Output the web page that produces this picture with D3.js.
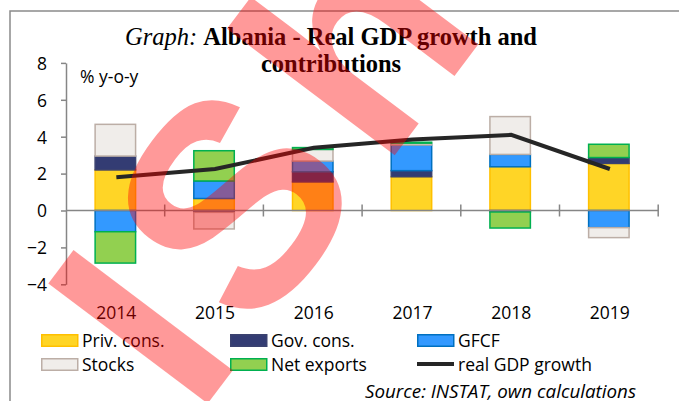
<!DOCTYPE html>
<html>
<head>
<meta charset="utf-8">
<script src="https://cdn.jsdelivr.net/npm/d3@7"></script>
<style>
  body { margin: 0; background: #fff; }
  svg { display: block; }
  .tick-label { font-family: "Open Sans", sans-serif; font-size: 17.5px; fill: #000; }
  .legend-label { font-family: "Open Sans", sans-serif; font-size: 17.5px; fill: #000; }
</style>
</head>
<body>
<svg id="chart"></svg>
<script>
// Chart data
const years = ['2014', '2015', '2016', '2017', '2018', '2019'];
const privCons   = [2.2, 0.65, 1.55, 1.83, 2.37, 2.55];
const govCons    = [0.75, -0.1, 0.55, 0.33, -0.08, 0.32];
const gfcf       = [-1.15, 0.95, 0.58, 1.39, 0.67, -0.93];
const stocks     = [1.72, -0.9, 0.63, 0.10, 2.05, -0.54];
const netExports = [-1.7, 1.64, 0.1, 0.05, -0.87, 0.72];
const gdpGrowth  = [1.8, 2.25, 3.4, 3.85, 4.1, 2.25];
const yTicks = [-4, -2, 0, 2, 4, 6, 8];

const seriesNames = ['Priv. cons.', 'Gov. cons.', 'GFCF', 'Stocks', 'Net exports'];
const seriesValues = [privCons, govCons, gfcf, stocks, netExports];
const lineName = 'real GDP growth';

const colors = {
    'Priv. cons.': {fill: '#ffd526', stroke: '#ffc000'},
    'Gov. cons.':  {fill: '#333c73', stroke: '#3b4270'},
    'GFCF':        {fill: '#3399ff', stroke: '#0070c0'},
    'Stocks':      {fill: '#f0edea', stroke: '#bcaea6'},
    'Net exports': {fill: '#92d050', stroke: '#00b050'}
};

const width = 679, height = 401;
const axisColor = '#868686';

const svg = d3.select('#chart')
    .attr('width', width)
    .attr('height', height);

svg.append('rect')
    .attr('width', width).attr('height', height)
    .attr('fill', '#fff');

// outer frame of the figure (runs off the right and bottom edge)
svg.append('rect')
    .attr('x', 10).attr('y', 11)
    .attr('width', 720).attr('height', 420)
    .attr('fill', 'none')
    .attr('stroke', '#8a8a8a')
    .attr('stroke-width', 1.5);

// Title
const title = svg.append('text')
    .attr('x', 331).attr('y', 45)
    .attr('text-anchor', 'middle')
    .style('font-family', '"Liberation Serif", "Times New Roman", serif')
    .style('font-size', '24.5px');
title.append('tspan').style('font-style', 'italic').text('Graph: ');
title.append('tspan').style('font-weight', 'bold').text('Albania - Real GDP growth and');
svg.append('text')
    .attr('x', 331).attr('y', 72)
    .attr('text-anchor', 'middle')
    .style('font-family', '"Liberation Serif", "Times New Roman", serif')
    .style('font-size', '24.5px')
    .style('font-weight', 'bold')
    .text('contributions');

// Scales
const xScale = d3.scaleBand()
    .domain(years)
    .range([66, 658.2])
    .padding(0);

const yScale = d3.scaleLinear()
    .domain([-4, 8])
    .range([284.3, 62.9]);

const barWidth = xScale.bandwidth() * 0.41;

// Stack the contributions, positives upward and negatives downward
const table = years.map((yr, i) => {
    const row = {year: yr};
    seriesNames.forEach((s, j) => row[s] = seriesValues[j][i]);
    return row;
});
const stacked = d3.stack()
    .keys(seriesNames)
    .offset(d3.stackOffsetDiverging)(table);

// Y axis
const yAxis = d3.axisLeft(yScale)
    .tickValues(yTicks)
    .tickSize(5)
    .tickSizeOuter(0)
    .tickPadding(14)
    .tickFormat(d3.format('d'));

const yAxisG = svg.append('g')
    .attr('transform', 'translate(66,0)')
    .call(yAxis);
yAxisG.select('.domain').attr('stroke', axisColor).attr('stroke-width', 1.5);
yAxisG.selectAll('.tick line').attr('stroke', axisColor).attr('stroke-width', 1.5);
yAxisG.selectAll('.tick text')
    .attr('class', 'tick-label')
    .attr('font-family', null).attr('font-size', null)
    .attr('dy', '0.36em');

// Bars
svg.append('g')
    .selectAll('g')
    .data(stacked)
    .join('g')
    .attr('fill', d => colors[d.key].fill)
    .attr('stroke', d => colors[d.key].stroke)
    .attr('stroke-width', 1.5)
    .selectAll('rect')
    .data(d => d.filter(p => p[1] !== p[0]))
    .join('rect')
    .attr('x', d => xScale(d.data.year) + (xScale.bandwidth() - barWidth) / 2)
    .attr('width', barWidth)
    .attr('y', d => yScale(Math.max(d[0], d[1])))
    .attr('height', d => Math.abs(yScale(d[0]) - yScale(d[1])));

// X axis along zero line: tick marks on category boundaries, crossing the line
const xAxisG = svg.append('g').attr('transform', `translate(0,${yScale(0)})`);
xAxisG.append('line')
    .attr('x1', 66).attr('x2', 658.2)
    .attr('stroke', axisColor).attr('stroke-width', 1.5);
xAxisG.selectAll('.xtick')
    .data(years)
    .join('line')
    .attr('class', 'xtick')
    .attr('x1', d => xScale(d) + xScale.bandwidth())
    .attr('x2', d => xScale(d) + xScale.bandwidth())
    .attr('y1', -6).attr('y2', 6)
    .attr('stroke', axisColor).attr('stroke-width', 1.5);

// category labels below the plot
svg.append('g')
    .selectAll('text')
    .data(years)
    .join('text')
    .attr('class', 'tick-label')
    .attr('x', d => xScale(d) + xScale.bandwidth() / 2 + 1)
    .attr('y', 318.5)
    .attr('text-anchor', 'middle')
    .text(d => d);

// Real GDP growth line
const line = d3.line()
    .x((d, i) => xScale(years[i]) + xScale.bandwidth() / 2 + 1)
    .y(d => yScale(d));

svg.append('path')
    .datum(gdpGrowth)
    .attr('fill', 'none')
    .attr('stroke', '#262626')
    .attr('stroke-width', 4)
    .attr('d', line);

// unit label
svg.append('text')
    .attr('class', 'tick-label')
    .attr('x', 80).attr('y', 83)
    .text('% y-o-y');

// Legend
const legendItems = seriesNames.concat([lineName]);
const legendCols = [41, 230, 417];
const legendRows = [334, 358];
const legend = svg.append('g')
    .selectAll('g')
    .data(legendItems)
    .join('g')
    .attr('transform', (d, i) => `translate(${legendCols[i % 3]},${legendRows[Math.floor(i / 3)]})`);

legend.filter(d => d !== lineName)
    .append('rect')
    .attr('x', 0.75).attr('y', 0.75)
    .attr('width', 36).attr('height', 11.5)
    .attr('fill', d => colors[d].fill)
    .attr('stroke', d => colors[d].stroke)
    .attr('stroke-width', 1.5);

legend.filter(d => d === lineName)
    .append('line')
    .attr('x1', 0).attr('x2', 37)
    .attr('y1', 6).attr('y2', 6)
    .attr('stroke', '#262626')
    .attr('stroke-width', 4);

legend.append('text')
    .attr('class', 'legend-label')
    .attr('x', 41).attr('y', 12.5)
    .text(d => d);

// Source note
svg.append('text')
    .attr('x', 636).attr('y', 398)
    .attr('text-anchor', 'end')
    .style('font-family', '"Open Sans", sans-serif')
    .style('font-size', '18.8px')
    .style('font-style', 'italic')
    .text('Source: INSTAT, own calculations');

// Red watermark lying over the whole figure
svg.append('text')
    .attr('transform', 'translate(196,419) rotate(-53)')
    .style('font-family', '"Liberation Sans", Arial, sans-serif')
    .style('font-size', '290px')
    .style('font-weight', 'bold')
    .style('letter-spacing', '18px')
    .attr('fill', '#ff0000')
    .attr('fill-opacity', 0.4)
    .text('IShot');
</script>
</body>
</html>
